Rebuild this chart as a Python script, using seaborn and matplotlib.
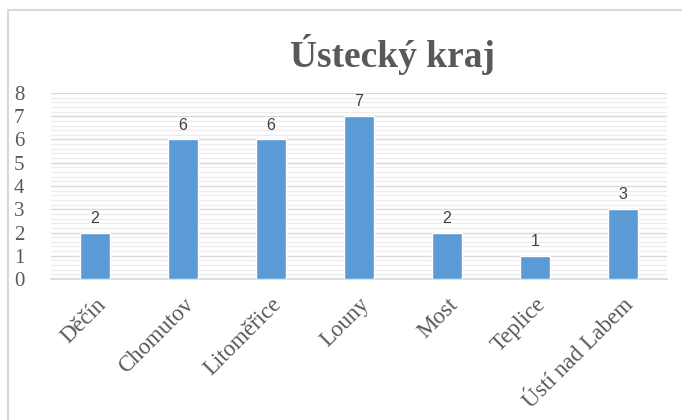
import matplotlib
matplotlib.use("Agg")
import matplotlib.pyplot as plt
import seaborn as sns
import pandas as pd
from matplotlib.ticker import MultipleLocator
from matplotlib.patches import Rectangle

# data
districts = ["Děčín", "Chomutov", "Litoměřice", "Louny", "Most", "Teplice", "Ústí nad Labem"]
counts = [2, 6, 6, 7, 2, 1, 3]
title = "Ústecký kraj"

df = pd.DataFrame({"okres": districts, "pocet": counts})

sns.set_theme(style="white")
plt.rcParams["font.family"] = ["Liberation Serif", "DejaVu Serif"]

grey = "#595959"
fig = plt.figure(figsize=(6.82, 4.2), dpi=100)
ax = fig.add_axes([0.0748, 0.3357, 0.9032, 0.4429])

sns.barplot(data=df, x="okres", y="pocet", color="#5B9BD5", saturation=1,
            width=0.33, ax=ax, zorder=3)

ax.set_ylim(0, 8)
ax.set_xlim(-0.5, len(districts) - 0.5)
ax.yaxis.set_major_locator(MultipleLocator(1))
ax.yaxis.set_minor_locator(MultipleLocator(0.2))
ax.grid(axis="y", which="major", color="#D9D9D9", lw=1.0, zorder=0)
ax.grid(axis="y", which="minor", color="#EDEDED", lw=1.0, zorder=0)
ax.set_axisbelow(True)
for s in ["top", "right", "left"]:
    ax.spines[s].set_visible(False)
ax.spines["bottom"].set_color("#D9D9D9")
ax.tick_params(axis="both", which="both", length=0)
ax.tick_params(axis="y", labelsize=15, labelcolor=grey, pad=23)
ax.set_xlabel("")
ax.set_ylabel("")
for lab in ax.get_yticklabels():
    lab.set_horizontalalignment("center")
ax.set_xticks(range(len(districts)))
ax.set_xticklabels(districts, rotation=45, ha="right", va="top",
                   rotation_mode="anchor", fontsize=16.5, color=grey)
ax.tick_params(axis="x", pad=11)

# value labels
for c in ax.containers:
    ax.bar_label(c, padding=5, fontsize=11.5, color="#404040",
                 family="Liberation Sans")

fig.text(0.575, 0.87, title, ha="center", va="center", fontsize=27,
         fontweight="bold", color=grey)

# chart border
border = Rectangle((0.011, -0.1), 1.2, 1.076, transform=fig.transFigure,
                   fill=False, edgecolor="#D9D9D9", lw=1.5)
fig.patches.append(border)

fig.savefig("out.png", dpi=100)
